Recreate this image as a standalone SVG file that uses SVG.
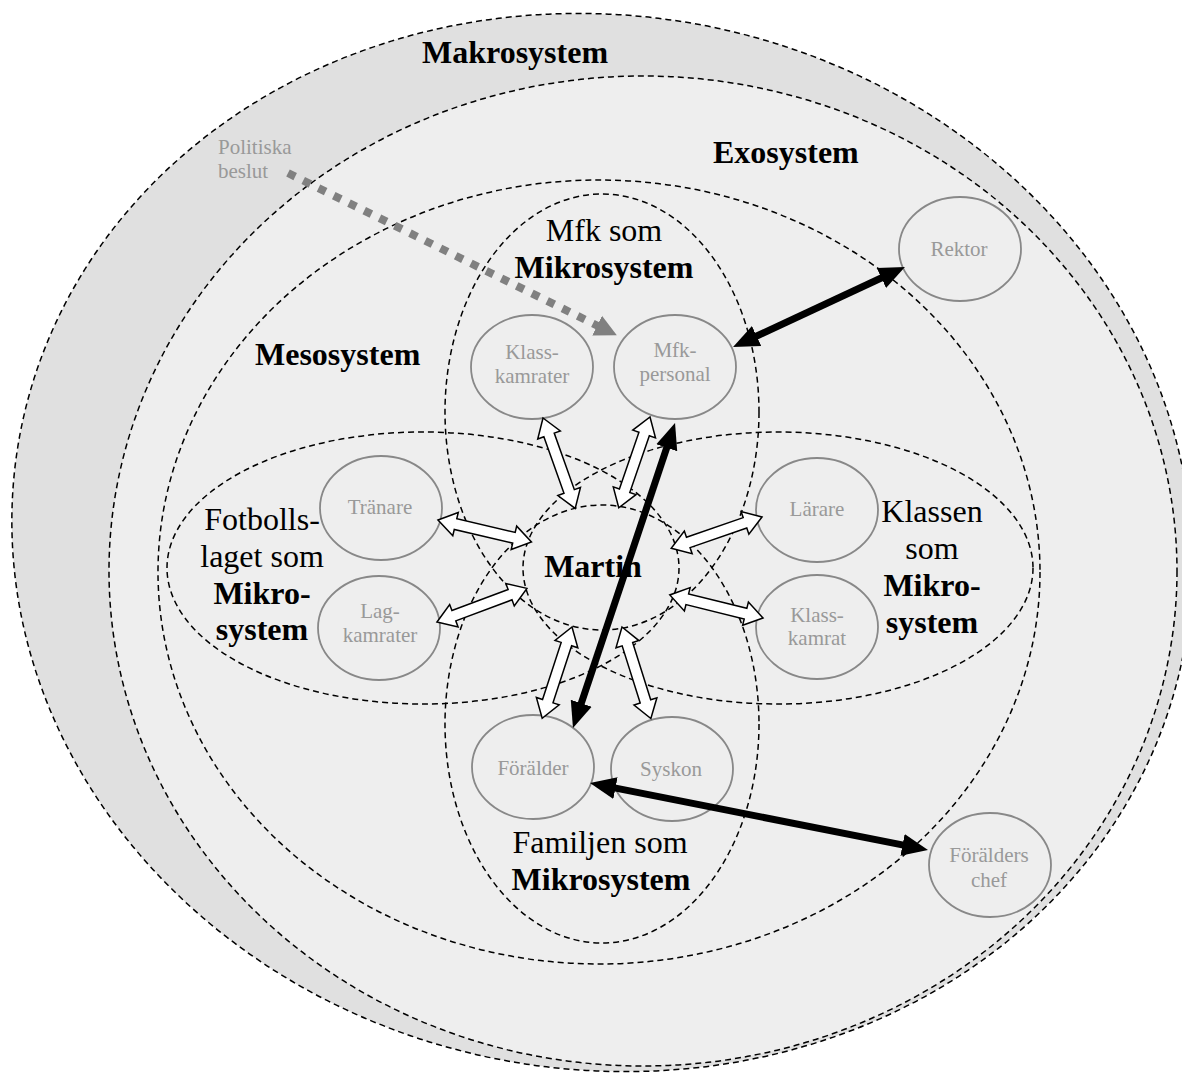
<svg xmlns="http://www.w3.org/2000/svg" width="1182" height="1075" viewBox="0 0 1182 1075">
  <style>
    .sys { stroke: #000; stroke-width: 1.5; stroke-dasharray: 6 4; fill: none; }
    .node { fill: #eeeeee; stroke: #888; stroke-width: 1.8; }
    .lbl { font-family: "Liberation Serif", "Times New Roman", serif; font-size: 32px; fill: #000; text-anchor: middle; }
    .lbl-start { font-family: "Liberation Serif", "Times New Roman", serif; font-size: 32px; fill: #000; }
    .b { font-weight: bold; }
    .small { font-family: "Liberation Serif", "Times New Roman", serif; font-size: 21px; fill: #999; text-anchor: middle; }
    .hollow { fill: #fff; stroke: #000; stroke-width: 1.5; stroke-linejoin: miter; }
    .strong { stroke: #000; stroke-width: 7; fill: none; marker-start: url(#bh); marker-end: url(#bh); }
    .dotted { stroke: #808080; stroke-width: 8; stroke-dasharray: 8 9; fill: none; marker-end: url(#gh); }
  </style>
  <defs>
    <marker id="bh" markerUnits="userSpaceOnUse" markerWidth="28" markerHeight="26" viewBox="0 -13 28 26" refX="1" refY="0" orient="auto-start-reverse">
      <path d="M0,-11 L26,0 L0,11 z" fill="#000"/>
    </marker>
    <marker id="gh" markerUnits="userSpaceOnUse" markerWidth="26" markerHeight="26" viewBox="0 -13 26 26" refX="1" refY="0" orient="auto">
      <path d="M0,-11 L22,0 L0,11 z" fill="#808080"/>
    </marker>
    <!-- white double-headed block arrow, 96 long, drawn along +x -->
    <polygon id="dbl" class="hollow" points="0,0 18,-12 18,-5.5 78,-5.5 78,-12 96,0 78,12 78,5.5 18,5.5 18,12"/>
  </defs>

  <!-- nested system ellipses -->
  <g id="makrosystem">
    <ellipse class="sys" cx="602" cy="542.5" rx="592" ry="527" transform="rotate(10 602 542.5)" style="fill:#e0e0e0"/>
    <text class="lbl-start b" x="422" y="63">Makrosystem</text>
  </g>
  <g id="exosystem">
    <ellipse class="sys" cx="643" cy="571" rx="534" ry="495" style="fill:#eeeeee"/>
    <text class="lbl-start b" x="713" y="163">Exosystem</text>
  </g>
  <g id="mesosystem">
    <ellipse class="sys" cx="599" cy="572" rx="441" ry="392"/>
    <text class="lbl-start b" x="255" y="365">Mesosystem</text>
  </g>
  <g id="mfk-mikrosystem">
    <ellipse class="sys" cx="602" cy="412" rx="157" ry="218"/>
    <text class="lbl" x="604" y="241">Mfk som</text>
    <text class="lbl b" x="604" y="278">Mikrosystem</text>
  </g>
  <g id="familj-mikrosystem">
    <ellipse class="sys" cx="602" cy="724" rx="157" ry="219"/>
    <text class="lbl" x="600" y="853">Familjen som</text>
    <text class="lbl b" x="601" y="890">Mikrosystem</text>
  </g>
  <g id="fotboll-mikrosystem">
    <ellipse class="sys" cx="423" cy="568" rx="256" ry="136"/>
    <text class="lbl" x="262" y="530">Fotbolls-</text>
    <text class="lbl" x="262" y="567">laget som</text>
    <text class="lbl b" x="262" y="604">Mikro-</text>
    <text class="lbl b" x="262" y="640">system</text>
  </g>
  <g id="klass-mikrosystem">
    <ellipse class="sys" cx="778" cy="568" rx="255" ry="136"/>
    <text class="lbl" x="932" y="522">Klassen</text>
    <text class="lbl" x="932" y="559">som</text>
    <text class="lbl b" x="932" y="596">Mikro-</text>
    <text class="lbl b" x="932" y="633">system</text>
  </g>
  <!-- Martin sits in the overlap of the four microsystems -->
  <g id="martin">
    <text class="lbl b" x="593" y="577">Martin</text>
  </g>

  <!-- people and actors -->
  <g id="klasskamrater">
    <ellipse class="node" cx="532" cy="367" rx="61" ry="52"/>
    <text class="small" x="532" y="359">Klass-</text>
    <text class="small" x="532" y="383">kamrater</text>
  </g>
  <g id="mfk-personal">
    <ellipse class="node" cx="675" cy="367" rx="61" ry="52"/>
    <text class="small" x="675" y="357">Mfk-</text>
    <text class="small" x="675" y="381">personal</text>
  </g>
  <g id="tranare">
    <ellipse class="node" cx="381" cy="508" rx="61" ry="52"/>
    <text class="small" x="380" y="514">Tränare</text>
  </g>
  <g id="lagkamrater">
    <ellipse class="node" cx="379" cy="628" rx="61" ry="52"/>
    <text class="small" x="380" y="618">Lag-</text>
    <text class="small" x="380" y="642">kamrater</text>
  </g>
  <g id="larare">
    <ellipse class="node" cx="817" cy="510" rx="61" ry="52"/>
    <text class="small" x="817" y="516">Lärare</text>
  </g>
  <g id="klasskamrat">
    <ellipse class="node" cx="817" cy="627" rx="61" ry="52"/>
    <text class="small" x="817" y="622">Klass-</text>
    <text class="small" x="817" y="645">kamrat</text>
  </g>
  <g id="foralder">
    <ellipse class="node" cx="533" cy="767" rx="61" ry="52"/>
    <text class="small" x="533" y="775">Förälder</text>
  </g>
  <g id="syskon">
    <ellipse class="node" cx="672" cy="769" rx="61" ry="52"/>
    <text class="small" x="671" y="776">Syskon</text>
  </g>
  <g id="foralders-chef">
    <ellipse class="node" cx="990" cy="865" rx="61" ry="52"/>
    <text class="small" x="989" y="862">Förälders</text>
    <text class="small" x="989" y="887">chef</text>
  </g>
  <g id="rektor">
    <ellipse class="node" cx="960" cy="249" rx="61" ry="52"/>
    <text class="small" x="959" y="256">Rektor</text>
  </g>
  <g id="politiska-beslut">
    <text class="small" x="218" y="154" style="text-anchor:start">Politiska</text>
    <text class="small" x="218" y="178" style="text-anchor:start">beslut</text>
  </g>

  <!-- relations -->
  <g id="connectors">
    <use href="#dbl" transform="translate(543,418) rotate(70.4)"/>
    <use href="#dbl" transform="translate(650,417) rotate(109)"/>
    <use href="#dbl" transform="translate(438,520) rotate(13.2)"/>
    <use href="#dbl" transform="translate(437,622) rotate(-20.5)"/>
    <use href="#dbl" transform="translate(762,517) rotate(161)"/>
    <use href="#dbl" transform="translate(763,618) rotate(193.9)"/>
    <use href="#dbl" transform="translate(572,627) rotate(108.1)"/>
    <use href="#dbl" transform="translate(622,627) rotate(72.5)"/>

    <line class="dotted" x1="288" y1="173" x2="598" y2="326"/>

    <line class="strong" x1="755.7" y1="336.5" x2="882.3" y2="277.5"/>
    <line class="strong" x1="667.1" y1="446.7" x2="580.9" y2="704.3"/>
    <line class="strong" x1="614.5" y1="787.9" x2="903.5" y2="845.1"/>
  </g>
</svg>
